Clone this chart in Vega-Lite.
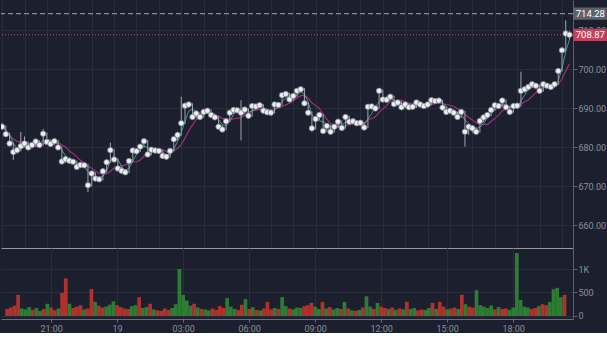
{
  "$schema": "https://vega.github.io/schema/vega-lite/v6.json",
  "padding": 0,
  "spacing": 0,
  "config": {
    "background": "#1c1f2e",
    "view": {"stroke": null},
    "axis": {"labelColor": "#8c8f99", "labelFont": "Roboto", "labelFontSize": 9, "gridColor": "#282c3b", "gridWidth": 1, "domainColor": "#5d606b", "tickColor": "#5d606b"}
  },
  "datasets": {
    "lv": [
      {"p": 714.28, "lab": "714.28", "k": "hi"},
      {"p": 708.87, "lab": "708.87", "k": "last"}
    ],
    "bars": [
      {"t":"2024-01-18T19:00","o":686.0,"h":686.3,"l":684.9,"c":685.3,"v":150},
      {"t":"2024-01-18T19:10","o":685.3,"h":685.6,"l":683.0,"c":683.4,"v":180},
      {"t":"2024-01-18T19:20","o":683.4,"h":683.8,"l":680.5,"c":681.0,"v":220},
      {"t":"2024-01-18T19:30","o":681.0,"h":681.3,"l":676.8,"c":678.8,"v":450},
      {"t":"2024-01-18T19:40","o":678.8,"h":680.0,"l":678.4,"c":679.3,"v":160},
      {"t":"2024-01-18T19:50","o":679.3,"h":684.0,"l":679.0,"c":680.3,"v":140},
      {"t":"2024-01-18T20:00","o":680.3,"h":682.8,"l":680.0,"c":681.0,"v":190},
      {"t":"2024-01-18T20:10","o":681.0,"h":681.5,"l":679.6,"c":680.0,"v":130},
      {"t":"2024-01-18T20:20","o":680.0,"h":681.2,"l":679.7,"c":680.6,"v":170},
      {"t":"2024-01-18T20:30","o":680.6,"h":682.0,"l":680.3,"c":681.5,"v":110},
      {"t":"2024-01-18T20:40","o":681.5,"h":681.8,"l":680.2,"c":680.6,"v":150},
      {"t":"2024-01-18T20:50","o":680.6,"h":684.7,"l":680.4,"c":683.5,"v":260},
      {"t":"2024-01-18T21:00","o":683.5,"h":683.8,"l":681.0,"c":681.4,"v":180},
      {"t":"2024-01-18T21:10","o":681.4,"h":681.8,"l":680.5,"c":680.9,"v":120},
      {"t":"2024-01-18T21:20","o":680.9,"h":682.0,"l":680.6,"c":681.6,"v":160},
      {"t":"2024-01-18T21:30","o":681.6,"h":681.9,"l":679.6,"c":680.0,"v":490},
      {"t":"2024-01-18T21:40","o":680.0,"h":680.3,"l":676.0,"c":676.4,"v":800},
      {"t":"2024-01-18T21:50","o":676.4,"h":677.8,"l":676.0,"c":677.0,"v":260},
      {"t":"2024-01-18T22:00","o":677.0,"h":677.4,"l":676.0,"c":676.6,"v":170},
      {"t":"2024-01-18T22:10","o":676.6,"h":677.0,"l":675.8,"c":676.3,"v":200},
      {"t":"2024-01-18T22:20","o":676.3,"h":676.6,"l":674.6,"c":675.0,"v":230},
      {"t":"2024-01-18T22:30","o":675.0,"h":676.0,"l":674.7,"c":675.5,"v":140},
      {"t":"2024-01-18T22:40","o":675.5,"h":676.0,"l":675.0,"c":675.4,"v":160},
      {"t":"2024-01-18T22:50","o":675.4,"h":675.8,"l":668.5,"c":670.3,"v":575},
      {"t":"2024-01-18T23:00","o":670.3,"h":673.8,"l":670.0,"c":673.3,"v":300},
      {"t":"2024-01-18T23:10","o":673.3,"h":673.6,"l":671.4,"c":672.0,"v":220},
      {"t":"2024-01-18T23:20","o":672.0,"h":672.4,"l":671.2,"c":671.8,"v":180},
      {"t":"2024-01-18T23:30","o":671.8,"h":674.3,"l":671.5,"c":673.9,"v":200},
      {"t":"2024-01-18T23:40","o":673.9,"h":676.6,"l":673.6,"c":676.2,"v":240},
      {"t":"2024-01-18T23:50","o":676.2,"h":681.2,"l":676.0,"c":679.3,"v":310},
      {"t":"2024-01-19T00:00","o":679.3,"h":679.6,"l":676.5,"c":676.9,"v":230},
      {"t":"2024-01-19T00:10","o":676.9,"h":677.2,"l":674.2,"c":674.6,"v":190},
      {"t":"2024-01-19T00:20","o":674.6,"h":675.0,"l":673.6,"c":674.0,"v":160},
      {"t":"2024-01-19T00:30","o":674.0,"h":674.4,"l":673.2,"c":673.6,"v":150},
      {"t":"2024-01-19T00:40","o":673.6,"h":676.9,"l":673.4,"c":676.5,"v":210},
      {"t":"2024-01-19T00:50","o":676.5,"h":679.6,"l":676.3,"c":679.2,"v":230},
      {"t":"2024-01-19T01:00","o":679.2,"h":679.6,"l":678.6,"c":679.0,"v":400},
      {"t":"2024-01-19T01:10","o":679.0,"h":680.6,"l":678.8,"c":680.2,"v":170},
      {"t":"2024-01-19T01:20","o":680.2,"h":682.0,"l":680.0,"c":681.6,"v":190},
      {"t":"2024-01-19T01:30","o":681.6,"h":681.9,"l":677.8,"c":678.2,"v":260},
      {"t":"2024-01-19T01:40","o":678.2,"h":679.8,"l":678.0,"c":679.4,"v":140},
      {"t":"2024-01-19T01:50","o":679.4,"h":679.8,"l":678.8,"c":679.2,"v":120},
      {"t":"2024-01-19T02:00","o":679.2,"h":679.6,"l":678.7,"c":679.1,"v":110},
      {"t":"2024-01-19T02:10","o":679.1,"h":679.4,"l":677.4,"c":677.8,"v":160},
      {"t":"2024-01-19T02:20","o":677.8,"h":678.2,"l":677.2,"c":677.6,"v":130},
      {"t":"2024-01-19T02:30","o":677.6,"h":679.5,"l":677.4,"c":679.1,"v":170},
      {"t":"2024-01-19T02:40","o":679.1,"h":682.5,"l":678.9,"c":682.1,"v":250},
      {"t":"2024-01-19T02:50","o":682.1,"h":684.0,"l":681.8,"c":683.2,"v":1000},
      {"t":"2024-01-19T03:00","o":683.2,"h":693.0,"l":683.0,"c":686.2,"v":450},
      {"t":"2024-01-19T03:10","o":686.2,"h":691.4,"l":686.0,"c":690.7,"v":330},
      {"t":"2024-01-19T03:20","o":690.7,"h":691.6,"l":690.2,"c":691.0,"v":220},
      {"t":"2024-01-19T03:30","o":691.0,"h":691.3,"l":687.4,"c":687.8,"v":260},
      {"t":"2024-01-19T03:40","o":687.8,"h":689.2,"l":687.5,"c":688.7,"v":180},
      {"t":"2024-01-19T03:50","o":688.7,"h":689.0,"l":687.4,"c":687.8,"v":150},
      {"t":"2024-01-19T04:00","o":687.8,"h":689.5,"l":687.6,"c":689.1,"v":140},
      {"t":"2024-01-19T04:10","o":689.1,"h":689.9,"l":688.8,"c":689.4,"v":120},
      {"t":"2024-01-19T04:20","o":689.4,"h":689.7,"l":687.9,"c":688.3,"v":160},
      {"t":"2024-01-19T04:30","o":688.3,"h":688.6,"l":687.3,"c":687.7,"v":130},
      {"t":"2024-01-19T04:40","o":687.7,"h":688.0,"l":684.9,"c":685.3,"v":210},
      {"t":"2024-01-19T04:50","o":685.3,"h":685.7,"l":684.2,"c":684.6,"v":170},
      {"t":"2024-01-19T05:00","o":684.6,"h":687.1,"l":684.4,"c":686.7,"v":380},
      {"t":"2024-01-19T05:10","o":686.7,"h":689.3,"l":686.5,"c":688.9,"v":200},
      {"t":"2024-01-19T05:20","o":688.9,"h":690.0,"l":688.6,"c":689.6,"v":150},
      {"t":"2024-01-19T05:30","o":689.6,"h":690.0,"l":689.2,"c":689.5,"v":130},
      {"t":"2024-01-19T05:40","o":689.5,"h":692.1,"l":681.8,"c":688.9,"v":240},
      {"t":"2024-01-19T05:50","o":688.9,"h":690.1,"l":688.6,"c":689.7,"v":360},
      {"t":"2024-01-19T06:00","o":689.7,"h":690.0,"l":687.7,"c":688.1,"v":150},
      {"t":"2024-01-19T06:10","o":688.1,"h":691.0,"l":687.9,"c":690.6,"v":190},
      {"t":"2024-01-19T06:20","o":690.6,"h":691.0,"l":690.2,"c":690.5,"v":130},
      {"t":"2024-01-19T06:30","o":690.5,"h":691.2,"l":690.3,"c":690.8,"v":120},
      {"t":"2024-01-19T06:40","o":690.8,"h":691.1,"l":689.0,"c":689.4,"v":160},
      {"t":"2024-01-19T06:50","o":689.4,"h":689.8,"l":688.6,"c":689.0,"v":300},
      {"t":"2024-01-19T07:00","o":689.0,"h":689.4,"l":688.5,"c":688.9,"v":140},
      {"t":"2024-01-19T07:10","o":688.9,"h":691.4,"l":688.7,"c":691.0,"v":170},
      {"t":"2024-01-19T07:20","o":691.0,"h":691.4,"l":690.6,"c":690.9,"v":150},
      {"t":"2024-01-19T07:30","o":690.9,"h":693.8,"l":690.8,"c":693.4,"v":400},
      {"t":"2024-01-19T07:40","o":693.4,"h":694.1,"l":693.1,"c":693.7,"v":210},
      {"t":"2024-01-19T07:50","o":693.7,"h":694.0,"l":691.9,"c":692.3,"v":160},
      {"t":"2024-01-19T08:00","o":692.3,"h":693.6,"l":692.0,"c":693.2,"v":140},
      {"t":"2024-01-19T08:10","o":693.2,"h":694.9,"l":693.0,"c":694.5,"v":180},
      {"t":"2024-01-19T08:20","o":694.5,"h":695.4,"l":694.2,"c":694.9,"v":170},
      {"t":"2024-01-19T08:30","o":694.9,"h":695.2,"l":690.9,"c":691.3,"v":210},
      {"t":"2024-01-19T08:40","o":691.3,"h":691.6,"l":688.5,"c":688.9,"v":230},
      {"t":"2024-01-19T08:50","o":688.9,"h":689.2,"l":684.0,"c":684.9,"v":280},
      {"t":"2024-01-19T09:00","o":684.9,"h":687.7,"l":684.6,"c":687.3,"v":200},
      {"t":"2024-01-19T09:10","o":687.3,"h":688.7,"l":687.0,"c":688.3,"v":150},
      {"t":"2024-01-19T09:20","o":688.3,"h":688.6,"l":683.8,"c":684.2,"v":300},
      {"t":"2024-01-19T09:30","o":684.2,"h":685.9,"l":684.0,"c":685.5,"v":160},
      {"t":"2024-01-19T09:40","o":685.5,"h":685.8,"l":683.6,"c":684.0,"v":190},
      {"t":"2024-01-19T09:50","o":684.0,"h":685.7,"l":683.8,"c":685.3,"v":140},
      {"t":"2024-01-19T10:00","o":685.3,"h":687.0,"l":685.0,"c":686.6,"v":170},
      {"t":"2024-01-19T10:10","o":686.6,"h":686.9,"l":684.6,"c":685.0,"v":150},
      {"t":"2024-01-19T10:20","o":685.0,"h":688.2,"l":684.8,"c":687.8,"v":300},
      {"t":"2024-01-19T10:30","o":687.8,"h":688.1,"l":686.2,"c":686.6,"v":160},
      {"t":"2024-01-19T10:40","o":686.6,"h":687.0,"l":686.2,"c":686.7,"v":120},
      {"t":"2024-01-19T10:50","o":686.7,"h":686.9,"l":685.8,"c":686.2,"v":110},
      {"t":"2024-01-19T11:00","o":686.2,"h":686.6,"l":685.8,"c":686.3,"v":130},
      {"t":"2024-01-19T11:10","o":686.3,"h":686.5,"l":684.7,"c":685.1,"v":180},
      {"t":"2024-01-19T11:20","o":685.1,"h":690.8,"l":684.9,"c":690.4,"v":420},
      {"t":"2024-01-19T11:30","o":690.4,"h":690.8,"l":690.0,"c":690.5,"v":200},
      {"t":"2024-01-19T11:40","o":690.5,"h":690.7,"l":689.6,"c":690.0,"v":150},
      {"t":"2024-01-19T11:50","o":690.0,"h":695.0,"l":689.8,"c":694.5,"v":280},
      {"t":"2024-01-19T12:00","o":694.5,"h":694.8,"l":691.9,"c":692.3,"v":200},
      {"t":"2024-01-19T12:10","o":692.3,"h":692.7,"l":691.9,"c":692.2,"v":170},
      {"t":"2024-01-19T12:20","o":692.2,"h":693.4,"l":692.0,"c":693.0,"v":150},
      {"t":"2024-01-19T12:30","o":693.0,"h":693.3,"l":690.7,"c":691.1,"v":180},
      {"t":"2024-01-19T12:40","o":691.1,"h":691.9,"l":690.8,"c":691.5,"v":130},
      {"t":"2024-01-19T12:50","o":691.5,"h":691.8,"l":689.9,"c":690.3,"v":160},
      {"t":"2024-01-19T13:00","o":690.3,"h":691.4,"l":690.0,"c":691.0,"v":140},
      {"t":"2024-01-19T13:10","o":691.0,"h":691.3,"l":689.9,"c":690.3,"v":300},
      {"t":"2024-01-19T13:20","o":690.3,"h":690.7,"l":689.9,"c":690.4,"v":150},
      {"t":"2024-01-19T13:30","o":690.4,"h":691.9,"l":690.1,"c":691.5,"v":170},
      {"t":"2024-01-19T13:40","o":691.5,"h":691.8,"l":690.6,"c":691.0,"v":120},
      {"t":"2024-01-19T13:50","o":691.0,"h":691.3,"l":690.2,"c":690.6,"v":140},
      {"t":"2024-01-19T14:00","o":690.6,"h":691.4,"l":690.3,"c":691.0,"v":130},
      {"t":"2024-01-19T14:10","o":691.0,"h":692.5,"l":690.8,"c":692.1,"v":170},
      {"t":"2024-01-19T14:20","o":692.1,"h":692.4,"l":691.5,"c":691.9,"v":280},
      {"t":"2024-01-19T14:30","o":691.9,"h":692.3,"l":691.5,"c":692.0,"v":150},
      {"t":"2024-01-19T14:40","o":692.0,"h":692.2,"l":689.8,"c":690.2,"v":300},
      {"t":"2024-01-19T14:50","o":690.2,"h":690.5,"l":688.7,"c":689.1,"v":200},
      {"t":"2024-01-19T15:00","o":689.1,"h":689.8,"l":688.8,"c":689.4,"v":140},
      {"t":"2024-01-19T15:10","o":689.4,"h":689.7,"l":688.5,"c":688.9,"v":160},
      {"t":"2024-01-19T15:20","o":688.9,"h":689.2,"l":687.4,"c":687.8,"v":180},
      {"t":"2024-01-19T15:30","o":687.8,"h":689.5,"l":687.6,"c":689.1,"v":150},
      {"t":"2024-01-19T15:40","o":689.1,"h":689.4,"l":680.2,"c":684.0,"v":450},
      {"t":"2024-01-19T15:50","o":684.0,"h":685.7,"l":683.2,"c":685.3,"v":250},
      {"t":"2024-01-19T16:00","o":685.3,"h":685.7,"l":683.8,"c":684.9,"v":200},
      {"t":"2024-01-19T16:10","o":684.9,"h":685.2,"l":683.5,"c":684.0,"v":180},
      {"t":"2024-01-19T16:20","o":684.0,"h":687.2,"l":683.8,"c":686.8,"v":550},
      {"t":"2024-01-19T16:30","o":686.8,"h":688.1,"l":686.5,"c":687.7,"v":230},
      {"t":"2024-01-19T16:40","o":687.7,"h":688.7,"l":687.4,"c":688.3,"v":200},
      {"t":"2024-01-19T16:50","o":688.3,"h":690.0,"l":688.0,"c":689.6,"v":170},
      {"t":"2024-01-19T17:00","o":689.6,"h":691.2,"l":689.4,"c":690.8,"v":220},
      {"t":"2024-01-19T17:10","o":690.8,"h":691.2,"l":690.2,"c":690.6,"v":140},
      {"t":"2024-01-19T17:20","o":690.6,"h":692.4,"l":690.4,"c":692.0,"v":190},
      {"t":"2024-01-19T17:30","o":692.0,"h":692.3,"l":689.9,"c":690.3,"v":150},
      {"t":"2024-01-19T17:40","o":690.3,"h":690.6,"l":688.7,"c":689.1,"v":160},
      {"t":"2024-01-19T17:50","o":689.1,"h":691.0,"l":688.9,"c":690.6,"v":130},
      {"t":"2024-01-19T18:00","o":690.6,"h":691.0,"l":690.2,"c":690.7,"v":180},
      {"t":"2024-01-19T18:10","o":690.7,"h":699.4,"l":690.4,"c":694.5,"v":1340},
      {"t":"2024-01-19T18:20","o":694.5,"h":695.4,"l":694.1,"c":694.9,"v":340},
      {"t":"2024-01-19T18:30","o":694.9,"h":696.0,"l":694.6,"c":695.5,"v":200},
      {"t":"2024-01-19T18:40","o":695.5,"h":696.6,"l":695.2,"c":696.2,"v":180},
      {"t":"2024-01-19T18:50","o":696.2,"h":696.5,"l":695.4,"c":695.8,"v":150},
      {"t":"2024-01-19T19:00","o":695.8,"h":696.1,"l":694.1,"c":694.5,"v":170},
      {"t":"2024-01-19T19:10","o":694.5,"h":696.6,"l":694.3,"c":696.2,"v":210},
      {"t":"2024-01-19T19:20","o":696.2,"h":696.5,"l":695.4,"c":695.8,"v":250},
      {"t":"2024-01-19T19:30","o":695.8,"h":696.1,"l":695.1,"c":695.5,"v":230},
      {"t":"2024-01-19T19:40","o":695.5,"h":696.7,"l":695.3,"c":696.2,"v":300},
      {"t":"2024-01-19T19:50","o":696.2,"h":700.1,"l":696.0,"c":699.6,"v":570},
      {"t":"2024-01-19T20:00","o":699.6,"h":705.5,"l":699.4,"c":704.9,"v":600},
      {"t":"2024-01-19T20:10","o":704.9,"h":712.6,"l":704.6,"c":709.2,"v":400},
      {"t":"2024-01-19T20:20","o":709.2,"h":709.8,"l":707.6,"c":708.87,"v":450}
    ]
  },
  "vconcat": [
    {
      "width": 572,
      "height": 248,
      "layer": [
        {
          "data": {"name": "lv"},
          "transform": [{"filter": "datum.k == 'hi'"}],
          "mark": {"type": "rule", "color": "#a3a6af", "strokeDash": [5, 3], "strokeWidth": 1},
          "encoding": {
            "y": {"field": "p", "type": "quantitative", "scale": {"domain": [654.2, 717.8], "nice": false, "zero": false},
              "axis": {"orient": "right", "values": [660, 670, 680, 690, 700, 710], "format": ".2f", "grid": true, "title": null, "tickSize": 4, "labelPadding": 1}}
          }
        },
        {
          "data": {"name": "lv"},
          "transform": [{"filter": "datum.k == 'last'"}],
          "mark": {"type": "rule", "color": "#b8556c", "strokeDash": [1, 2], "strokeWidth": 1},
          "encoding": {
            "y": {"field": "p", "type": "quantitative", "scale": {"domain": [654.2, 717.8], "nice": false, "zero": false}}
          }
        },
        {
          "data": {"name": "bars"},
          "transform": [{"window": [{"op": "mean", "field": "c", "as": "ma"}], "frame": [-6, 0], "sort": [{"field": "t"}]}],
          "mark": {"type": "line", "color": "#9c3279", "strokeWidth": 1.2, "clip": true},
          "encoding": {
            "x": {"field": "t", "type": "temporal", "scale": {"domain": ["2024-01-18T18:57", "2024-01-19T20:29:30"]},
              "axis": {"orient": "bottom", "labels": false, "ticks": false, "domain": true, "domainColor": "#9598a1", "grid": true, "title": null}},
            "y": {"field": "ma", "type": "quantitative", "scale": {"domain": [654.2, 717.8], "nice": false, "zero": false}}
          }
        },
        {
          "data": {"name": "bars"},
          "transform": [{"window": [{"op": "mean", "field": "c", "as": "ma"}], "frame": [-2, 0], "sort": [{"field": "t"}]}],
          "mark": {"type": "line", "color": "#3a9d8f", "strokeWidth": 1, "clip": true},
          "encoding": {
            "x": {"field": "t", "type": "temporal", "scale": {"domain": ["2024-01-18T18:57", "2024-01-19T20:29:30"]}},
            "y": {"field": "ma", "type": "quantitative", "scale": {"domain": [654.2, 717.8], "nice": false, "zero": false}}
          }
        },
        {
          "data": {"name": "bars"},
          "mark": {"type": "rule", "color": "#a2a5ae", "strokeWidth": 1, "clip": true},
          "encoding": {
            "x": {"field": "t", "type": "temporal", "scale": {"domain": ["2024-01-18T18:57", "2024-01-19T20:29:30"]}},
            "y": {"field": "l", "type": "quantitative", "scale": {"domain": [654.2, 717.8], "nice": false, "zero": false}},
            "y2": {"field": "h"}
          }
        },
        {
          "data": {"name": "bars"},
          "mark": {"type": "point", "shape": "circle", "filled": true, "size": 30, "fill": "#eceef2", "stroke": "#80838d", "strokeWidth": 0.8, "opacity": 1, "clip": true},
          "encoding": {
            "x": {"field": "t", "type": "temporal", "scale": {"domain": ["2024-01-18T18:57", "2024-01-19T20:29:30"]}},
            "y": {"field": "c", "type": "quantitative", "scale": {"domain": [654.2, 717.8], "nice": false, "zero": false}}
          }
        },
        {
          "data": {"name": "lv"},
          "mark": {"type": "point", "shape": "M-1,-0.37L1,-0.37L1,0.37L-1,0.37Z", "size": 1089, "filled": true, "opacity": 1, "strokeWidth": 0, "clip": false},
          "encoding": {
            "x": {"datum": {"year": 2024, "month": 1, "date": 19, "hours": 21, "minutes": 16}, "type": "temporal"},
            "y": {"field": "p", "type": "quantitative"},
            "color": {"condition": {"test": "datum.k == 'hi'", "value": "#5f626d"}, "value": "#c2425a"}
          }
        },
        {
          "data": {"name": "lv"},
          "mark": {"type": "text", "color": "#ffffff", "font": "Roboto", "fontSize": 9.5, "align": "center", "baseline": "middle", "clip": false},
          "encoding": {
            "x": {"datum": {"year": 2024, "month": 1, "date": 19, "hours": 21, "minutes": 16}, "type": "temporal"},
            "y": {"field": "p", "type": "quantitative"},
            "text": {"field": "lab"}
          }
        }
      ]
    },
    {
      "width": 572,
      "height": 71,
      "data": {"name": "bars"},
      "mark": {"type": "bar", "size": 3.7, "opacity": 0.88, "clip": true},
      "encoding": {
        "x": {"field": "t", "type": "temporal", "scale": {"domain": ["2024-01-18T18:57", "2024-01-19T20:29:30"]},
          "axis": {"orient": "bottom", "grid": true, "labelExpr": "hours(datum.value) === 0 ? '' + date(datum.value) : timeFormat(datum.value, '%H:%M')", "title": null, "domainColor": "#6a6d78", "tickColor": "#6a6d78", "tickSize": 3, "labelPadding": 2, "labelFlush": false}},
        "y": {"field": "v", "type": "quantitative", "scale": {"domain": [-64, 1447], "nice": false, "zero": false},
          "axis": {"orient": "right", "values": [0, 500, 1000], "labelExpr": "datum.value >= 1000 ? (datum.value / 1000) + 'K' : datum.label", "grid": true, "title": null, "tickSize": 4, "labelPadding": 1}},
        "y2": {"datum": 0},
        "color": {"condition": {"test": "datum.c >= datum.o", "value": "#2f8a35"}, "value": "#c8342b"}
      }
    }
  ]
}
